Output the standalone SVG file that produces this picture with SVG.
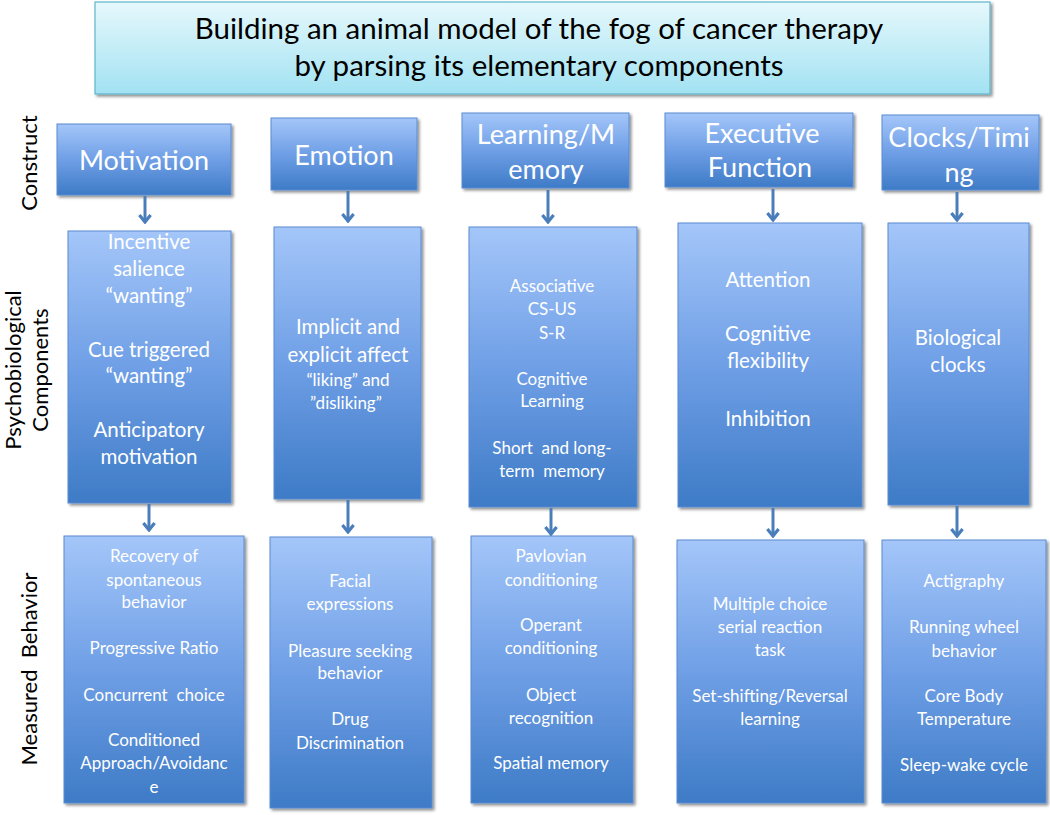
<svg xmlns="http://www.w3.org/2000/svg" width="1050" height="815" viewBox="0 0 1050 815">
<defs>
<linearGradient id="blue" x1="0" y1="0" x2="0" y2="1">
<stop offset="0" stop-color="#a4c6f9"/>
<stop offset="0.5" stop-color="#6f9fe6"/>
<stop offset="1" stop-color="#3e7bc6"/>
</linearGradient>
<linearGradient id="cyan" x1="0" y1="0" x2="0" y2="1">
<stop offset="0" stop-color="#e6f8fc"/>
<stop offset="1" stop-color="#a2e2f2"/>
</linearGradient>
<filter id="sh" x="-10%" y="-10%" width="130%" height="130%">
<feGaussianBlur in="SourceAlpha" stdDeviation="1.5"/>
<feOffset dx="1.5" dy="2" result="o"/>
<feComponentTransfer><feFuncA type="linear" slope="0.45"/></feComponentTransfer>
<feMerge><feMergeNode/><feMergeNode in="SourceGraphic"/></feMerge>
</filter>
<marker id="ah" viewBox="0 0 10 10" refX="8.5" refY="5" markerWidth="14" markerHeight="14" markerUnits="userSpaceOnUse" orient="auto">
<path d="M3.5,1 L8.5,5 L3.5,9" fill="none" stroke="#4a7ebb" stroke-width="2.3" stroke-linejoin="miter"/>
</marker>
</defs>
<style>
.box{fill:url(#blue);stroke:#5a8bd0;stroke-width:1;filter:url(#sh)}
.t{font-family:Lato,"Open Sans",sans-serif;fill:#ffffff;text-anchor:middle;dominant-baseline:central}
.c{font-size:27px}
.p{font-size:20.5px}
.s{font-size:17px}
.lab{font-family:Lato,"Open Sans",sans-serif;fill:#000;font-size:22px;text-anchor:middle;dominant-baseline:central}
.ar{stroke:#4a7ebb;stroke-width:3;fill:none;marker-end:url(#ah)}
</style>
<rect width="1050" height="815" fill="#ffffff"/>

<g id="title">
<rect x="95" y="2" width="895" height="92" fill="url(#cyan)" stroke="#5fb6cc" stroke-width="1.2" filter="url(#sh)"/>
<text x="539" y="27" font-family="Lato,'Open Sans',sans-serif" font-size="29.5" fill="#000" text-anchor="middle" dominant-baseline="central">Building an animal model of the fog of cancer therapy</text>
<text x="539" y="64" font-family="Lato,'Open Sans',sans-serif" font-size="29.5" fill="#000" text-anchor="middle" dominant-baseline="central">by parsing its elementary components</text>
</g>

<g id="row-labels">
<text class="lab" transform="translate(28,163) rotate(-90)">Construct</text>
<text class="lab" transform="translate(12,370) rotate(-90)">Psychobiological</text>
<text class="lab" transform="translate(39,370) rotate(-90)">Components</text>
<text class="lab" transform="translate(28,669) rotate(-90)" xml:space="preserve">Measured  Behavior</text>
</g>

<g id="construct-motivation">
<rect class="box" x="57" y="124" width="174" height="71"/>
<text class="t c" x="144" y="159">Motivation</text>
</g>
<g id="construct-emotion">
<rect class="box" x="271" y="118" width="146" height="72"/>
<text class="t c" x="344" y="154">Emotion</text>
</g>
<g id="construct-learning">
<rect class="box" x="462" y="113" width="167" height="75"/>
<text class="t c" x="546" y="133">Learning/M</text>
<text class="t c" x="546" y="168">emory</text>
</g>
<g id="construct-executive">
<rect class="box" x="665" y="113" width="188" height="74"/>
<text class="t c" x="762" y="132">Executive</text>
<text class="t c" x="760" y="166">Function</text>
</g>
<g id="construct-clocks">
<rect class="box" x="882" y="115" width="157" height="75"/>
<text class="t c" x="959" y="136">Clocks/Timi</text>
<text class="t c" x="959" y="171">ng</text>
</g>

<g id="psych-motivation">
<rect class="box" x="68" y="231" width="163" height="272"/>
<text class="t p" x="149" y="241">Incentive</text>
<text class="t p" x="149" y="268">salience</text>
<text class="t p" x="149" y="295">“wanting”</text>
<text class="t p" x="149" y="349">Cue triggered</text>
<text class="t p" x="149" y="375">“wanting”</text>
<text class="t p" x="149" y="429">Anticipatory</text>
<text class="t p" x="149" y="456">motivation</text>
</g>
<g id="psych-emotion">
<rect class="box" x="274" y="227" width="147" height="272"/>
<text class="t p" x="348" y="326">Implicit and</text>
<text class="t p" x="348" y="354">explicit affect</text>
<text class="t s" x="348" y="379">“liking” and</text>
<text class="t s" x="346" y="402">”disliking”</text>
</g>
<g id="psych-learning">
<rect class="box" x="469" y="227" width="168" height="280"/>
<text class="t s" x="552" y="285">Associative</text>
<text class="t s" x="552" y="308">CS-US</text>
<text class="t s" x="552" y="332">S-R</text>
<text class="t s" x="552" y="378">Cognitive</text>
<text class="t s" x="552" y="400">Learning</text>
<text class="t s" x="552" y="447" xml:space="preserve">Short  and long-</text>
<text class="t s" x="552" y="470" xml:space="preserve">term  memory</text>
</g>
<g id="psych-executive">
<rect class="box" x="678" y="223" width="184" height="284"/>
<text class="t p" x="768" y="279">Attention</text>
<text class="t p" x="768" y="333">Cognitive</text>
<text class="t p" x="768" y="360">flexibility</text>
<text class="t p" x="768" y="418">Inhibition</text>
</g>
<g id="psych-clocks">
<rect class="box" x="888" y="223" width="141" height="282"/>
<text class="t p" x="958" y="337">Biological</text>
<text class="t p" x="958" y="364">clocks</text>
</g>

<g id="measured-motivation">
<rect class="box" x="64" y="536" width="180" height="267"/>
<text class="t s" x="154" y="555">Recovery of</text>
<text class="t s" x="154" y="579">spontaneous</text>
<text class="t s" x="154" y="601">behavior</text>
<text class="t s" x="154" y="647">Progressive Ratio</text>
<text class="t s" x="154" y="694" xml:space="preserve">Concurrent  choice</text>
<text class="t s" x="154" y="739">Conditioned</text>
<text class="t s" x="154" y="762">Approach/Avoidanc</text>
<text class="t s" x="154" y="786">e</text>
</g>
<g id="measured-emotion">
<rect class="box" x="270" y="537" width="162" height="271"/>
<text class="t s" x="350" y="580">Facial</text>
<text class="t s" x="350" y="603">expressions</text>
<text class="t s" x="350" y="650">Pleasure seeking</text>
<text class="t s" x="350" y="672">behavior</text>
<text class="t s" x="350" y="718">Drug</text>
<text class="t s" x="350" y="742">Discrimination</text>
</g>
<g id="measured-learning">
<rect class="box" x="471" y="536" width="162" height="267"/>
<text class="t s" x="551" y="555">Pavlovian</text>
<text class="t s" x="551" y="579">conditioning</text>
<text class="t s" x="551" y="624">Operant</text>
<text class="t s" x="551" y="647">conditioning</text>
<text class="t s" x="551" y="694">Object</text>
<text class="t s" x="551" y="717">recognition</text>
<text class="t s" x="551" y="762">Spatial memory</text>
</g>
<g id="measured-executive">
<rect class="box" x="677" y="540" width="187" height="263"/>
<text class="t s" x="770" y="603">Multiple choice</text>
<text class="t s" x="770" y="626">serial reaction</text>
<text class="t s" x="770" y="649">task</text>
<text class="t s" x="770" y="695">Set-shifting/Reversal</text>
<text class="t s" x="770" y="718">learning</text>
</g>
<g id="measured-clocks">
<rect class="box" x="882" y="540" width="164" height="263"/>
<text class="t s" x="964" y="580">Actigraphy</text>
<text class="t s" x="964" y="626">Running wheel</text>
<text class="t s" x="964" y="650">behavior</text>
<text class="t s" x="964" y="695">Core Body</text>
<text class="t s" x="964" y="718">Temperature</text>
<text class="t s" x="964" y="764">Sleep-wake cycle</text>
</g>

<g id="connectors">
<line class="ar" x1="145" y1="196" x2="145" y2="222"/>
<line class="ar" x1="348" y1="191" x2="348" y2="221"/>
<line class="ar" x1="548" y1="190" x2="548" y2="222"/>
<line class="ar" x1="773" y1="189" x2="773" y2="220"/>
<line class="ar" x1="957" y1="192" x2="957" y2="220"/>
<line class="ar" x1="149" y1="504" x2="149" y2="530"/>
<line class="ar" x1="348" y1="500" x2="348" y2="532"/>
<line class="ar" x1="551" y1="508" x2="551" y2="534"/>
<line class="ar" x1="773" y1="508" x2="773" y2="536"/>
<line class="ar" x1="957" y1="506" x2="957" y2="536"/>
</g>
</svg>
